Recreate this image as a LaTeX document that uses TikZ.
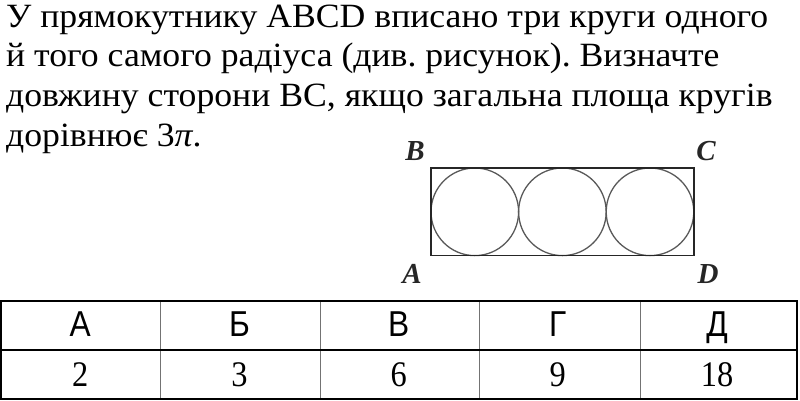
\documentclass[tikz,border=0pt]{standalone}
\usepackage{fontspec}
\setmainfont{Liberation Serif}
\newfontfamily\bodyfont[FakeStretch=1.05]{Liberation Serif}
\newfontfamily\cellfont[FakeStretch=0.9]{Liberation Serif}
\newfontfamily\headfont[FakeStretch=0.88]{Liberation Sans}
\usetikzlibrary{calc}
\frenchspacing
\begin{document}
\begin{tikzpicture}[x=1pt,y=-1pt,
  textline/.style={anchor=base west,inner sep=0pt,font=\fontsize{34}{40}\selectfont\bodyfont},
  vertex/.style={anchor=base,inner sep=0pt,font=\fontsize{29}{32}\selectfont\bfseries\itshape,black!85},
  head/.style={anchor=base,inner sep=0pt,font=\fontsize{36}{40}\selectfont\headfont},
  cell/.style={anchor=base,inner sep=0pt,font=\fontsize{36}{40}\selectfont\cellfont}]
\useasboundingbox (0,0) rectangle (800,400);

% task text
\node[textline] (t1) at (6,27.5) {У прямокутнику ABCD вписано три круги одного};
\node[textline] (t2) at (6,66.5) {й того самого радіуса (див. рисунок). Визначте};
\node[textline] (t3) at (6,106) {довжину сторони BC, якщо загальна площа кругів};
\node[textline] (t4) at (6,146) {дорівнює 3\textit{π}.};

% rectangle with three circles
\coordinate (a) at (431,255.6);
\coordinate (b) at (431,168);
\coordinate (c) at (693.8,168);
\coordinate (d) at (693.8,255.6);
\coordinate (m) at ($(a)!.5!(b)$);

\foreach \i in {1,3,5}
  \draw[line width=1.3pt,black!65] ($(m)+(43.8*\i,0)$) circle[radius=43.8];
\draw[line width=1.5pt,black!85] (a) -- (b) -- (c) -- (d) -- cycle;

\node[vertex] (la) at (412,283) {A};
\node[vertex] (lb) at (415,160) {B};
\node[vertex] (lc) at (706,160) {C};
\node[vertex] (ld) at (708,283) {D};

% answer table
\foreach \x in {160,320,479,640}
  \draw[line width=1pt,black!55] (\x,301) -- (\x,399);
\draw[line width=1.2pt] (1,301) rectangle (797,399);
\draw[line width=1.2pt] (1,350) -- (797,350);

\foreach \l/\v [count=\k] in {А/2,Б/3,В/6,Г/9,Д/18}
{
  \node[head] (h\k) at (-79+159.2*\k,336.5) {\l};
  \node[cell] (v\k) at (-79+159.2*\k,386.5) {\v};
}

\end{tikzpicture}
\end{document}
